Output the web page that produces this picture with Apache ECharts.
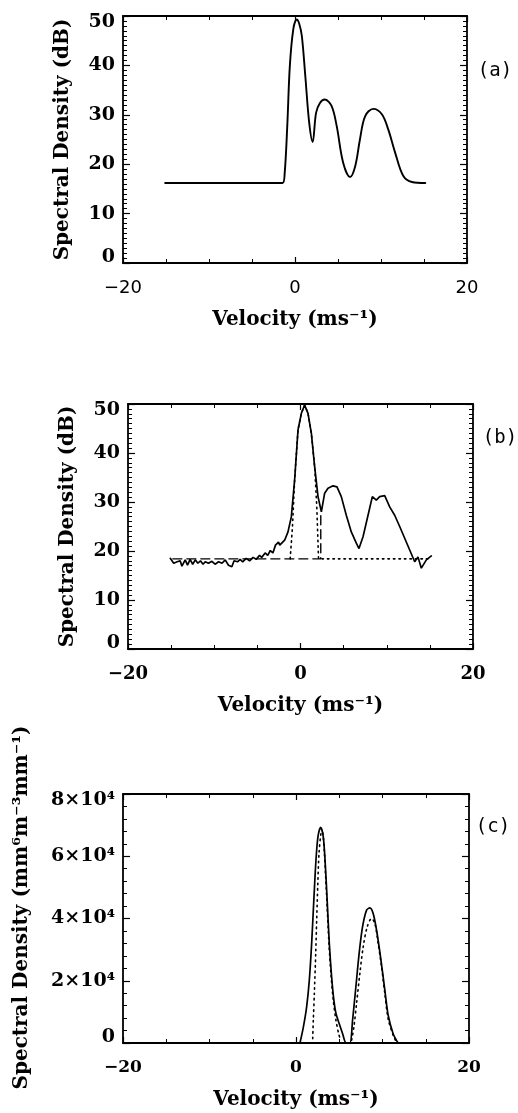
<!DOCTYPE html>
<html>
<head>
<meta charset="utf-8">
<script src="https://cdn.jsdelivr.net/npm/echarts@6/dist/echarts.min.js"></script>
<style>
  html, body { margin: 0; padding: 0; background: #ffffff; }
  #chart { width: 518px; height: 1113px; }
</style>
</head>
<body>
<div id="chart"></div>
<script>
// (a) model Doppler spectrum, dB
const velocityA = [-15.1, -8, -1.45, -1.2, -0.9, -0.6, -0.2, 0.2, 0.5, 0.8, 1.2, 1.65, 2.05, 2.45, 2.9, 3.45, 4.25, 4.85, 5.6, 6.4, 7.0, 7.55, 8.15, 9.1, 10.1, 10.85, 11.65, 12.6, 13.6, 15.15];
const densityA = [16.2, 16.2, 16.2, 18.2, 27.7, 39.9, 47.3, 49.3, 48.4, 45.9, 37.8, 28.4, 24.5, 30.4, 32.4, 33.1, 31.8, 27.7, 20.3, 17.4, 19.6, 25.0, 29.7, 31.2, 30.1, 27.0, 22.3, 17.6, 16.4, 16.2];

// (b) observed spectrum, dB
const velocityB = [-15.1, -14.7, -14.3, -13.95, -13.75, -13.37, -13.1, -12.8, -12.5, -12.2, -11.9, -11.6, -11.3, -11.05, -10.67, -10.28, -9.9, -9.5, -9.1, -8.73, -8.35, -7.96, -7.7, -7.3, -7.0, -6.7, -6.3, -5.9, -5.5, -5.14, -4.75, -4.5, -4.1, -3.8, -3.5, -3.2, -2.9, -2.55, -2.4, -1.84, -1.45, -1.06, -0.68, -0.29, 0.1, 0.48, 0.87, 1.26, 1.64, 2.03, 2.42, 2.8, 3.19, 3.77, 4.23, 4.73, 5.31, 5.89, 6.47, 6.78, 7.25, 7.83, 8.33, 8.79, 9.18, 9.76, 10.34, 10.92, 11.5, 12.08, 12.66, 13.24, 13.62, 14.01, 14.59, 15.17];
const densityB = [18.5, 17.5, 17.8, 18.0, 16.9, 18.2, 17.1, 18.3, 17.3, 18.2, 17.5, 18.0, 17.3, 17.8, 17.5, 17.9, 17.3, 17.8, 17.5, 18.2, 17.1, 16.8, 18.0, 17.8, 18.3, 17.8, 18.5, 18.0, 18.7, 18.3, 19.1, 18.7, 19.6, 19.1, 20.1, 19.6, 21.2, 21.8, 21.2, 22.2, 23.9, 27.0, 34.5, 44.7, 48.1, 49.8, 48.1, 44.0, 37.2, 31.1, 28.0, 31.8, 32.8, 33.3, 33.1, 31.1, 27.3, 23.9, 21.6, 20.5, 22.9, 27.3, 31.1, 30.4, 31.1, 31.3, 29.0, 27.3, 25.0, 22.6, 20.2, 17.8, 18.8, 16.5, 18.2, 19.0];

// (b) fitted clutter peak and noise floor (dotted)
const velocityBFit = [-1.2, -1.05, -0.93, -0.68, -0.29, 0.1, 0.48, 0.87, 1.26, 1.64, 1.89, 2.09, 2.45, 14.8];
const densityBFit = [18.4, 22.0, 25.0, 34.5, 44.7, 48.1, 49.8, 48.1, 44.0, 37.2, 29.0, 18.4, 18.4, 18.4];

// (b) noise floor and cut-off velocity (dashed)
const velocityBCut = [-14.8, 2.35, 2.35];
const densityBCut = [18.4, 18.4, 28.0];

// (c) drop size spectrum, mm^6 m^-3 mm^-1
const velocityC = [0.46, 0.85, 1.23, 1.54, 1.81, 2.08, 2.31, 2.54, 2.85, 3.15, 3.38, 3.62, 3.85, 4.12, 4.38, 4.62, 5.0, 5.39, 5.8, 6.23, 6.54, 6.92, 7.3, 7.69, 8.16, 8.54, 8.92, 9.31, 9.77, 10.27, 10.65, 11.23, 11.8];
const densityC = [0, 5100, 11600, 20200, 32000, 47000, 58800, 66300, 69300, 66300, 57700, 44900, 32000, 21200, 13700, 9500, 6200, 3000, 0, 0, 7300, 18000, 28800, 37300, 42700, 43400, 41600, 36300, 27700, 17000, 9000, 3000, 0];

// (c) fitted peaks (dotted)
const velocityCFit1 = [1.93, 2.0, 2.12, 2.28, 2.39, 2.51, 2.66, 2.89, 3.04, 3.24, 3.43, 3.62, 3.81, 4.04, 4.31, 4.62, 4.93, 5.16];
const densityCFit1 = [1400, 7300, 15900, 28800, 39500, 50200, 60900, 67400, 67900, 63100, 53400, 42700, 32000, 22300, 13700, 7300, 3000, 900];
const velocityCFit2 = [6.43, 6.69, 7.0, 7.38, 7.77, 8.23, 8.73, 9.12, 9.5, 9.89, 10.27, 10.65, 11.23, 11.6];
const densityCFit2 = [900, 5100, 12700, 22300, 30900, 37300, 40000, 38400, 32000, 24500, 15900, 7800, 2500, 300];

// tick labels
const velocityTicks = [-20, 0, 20];
const dbTicks = [0, 10, 20, 30, 40, 50];
const zTicks = [0, 20000, 40000, 60000, 80000];

const SERIF = 'DejaVu Serif';
const SANS = 'DejaVu Sans';
const MONO = 'DejaVu Sans Mono';
const INK = '#000000';

const zip = (xs, ys) => xs.map((x, i) => [x, ys[i]]);

const grids = [
  { left: 123, top: 16, width: 344, height: 247 },
  { left: 128, top: 404, width: 345, height: 245 },
  { left: 123, top: 794, width: 346, height: 249 }
];

function velocityAxes(g, labelFont, labelWeight, labelSize) {
  const common = {
    gridIndex: g, type: 'value',
    min: velocityTicks[0], max: velocityTicks[velocityTicks.length - 1],
    interval: velocityTicks[1] - velocityTicks[0],
    axisLine: { show: true, onZero: false, lineStyle: { color: INK, width: 1.8 } },
    axisTick: { show: true, inside: true, length: 6, lineStyle: { color: INK, width: 1.2 } },
    minorTick: { show: true, splitNumber: 4, length: 4, lineStyle: { color: INK, width: 1 } },
    splitLine: { show: false },
    minorSplitLine: { show: false }
  };
  return [
    Object.assign({}, common, {
      position: 'bottom',
      axisLabel: {
        show: true, margin: 16, color: INK, fontFamily: labelFont, fontWeight: labelWeight, fontSize: labelSize,
        formatter: v => String(v).replace('-', '\u2212')
      },
      name: 'Velocity (ms\u207B\u00B9)',
      nameLocation: 'middle',
      nameGap: 47,
      nameTextStyle: { color: INK, fontFamily: SERIF, fontWeight: 'bold', fontSize: 20 }
    }),
    Object.assign({}, common, { position: 'top', axisLabel: { show: false } })
  ];
}

function densityAxes(g, ticks, minorSplit, formatter, name, nameGap, namePadding) {
  const common = {
    gridIndex: g, type: 'value',
    min: ticks[0], max: ticks[ticks.length - 1], interval: ticks[1] - ticks[0],
    axisLine: { show: true, onZero: false, lineStyle: { color: INK, width: 1.8 } },
    axisTick: { show: true, inside: true, length: 7, lineStyle: { color: INK, width: 1.2 } },
    minorTick: { show: true, splitNumber: minorSplit, length: 4, lineStyle: { color: INK, width: 1 } },
    splitLine: { show: false },
    minorSplitLine: { show: false }
  };
  return [
    Object.assign({}, common, {
      position: 'left',
      axisLabel: {
        show: true, margin: 8, color: INK, fontFamily: SERIF, fontWeight: 'bold', fontSize: 19,
        lineHeight: 12,
        verticalAlignMinLabel: 'bottom',
        verticalAlignMaxLabel: 'top',
        formatter: formatter
      },
      name: name,
      nameLocation: 'middle',
      nameRotate: 90,
      nameGap: nameGap,
      nameTextStyle: { color: INK, fontFamily: SERIF, fontWeight: 'bold', fontSize: 20, padding: namePadding }
    }),
    Object.assign({}, common, { position: 'right', axisLabel: { show: false } })
  ];
}

const zFormatter = v => (v === 0 ? '0' : (v / 10000) + '\u00D710\u2074');

const xAxis = [].concat(
  velocityAxes(0, SANS, 'normal', 18),
  velocityAxes(1, SERIF, 'bold', 18),
  velocityAxes(2, SERIF, 'bold', 17)
);
const yAxis = [].concat(
  densityAxes(0, dbTicks, 10, v => String(v), 'Spectral Density (dB)', 50, 0),
  densityAxes(1, dbTicks, 10, v => String(v), 'Spectral Density (dB)', 50, 0),
  densityAxes(2, zTicks, 5, zFormatter, 'Spectral Density (mm\u2076m\u207B\u00B3mm\u207B\u00B9)', 91, [0, 0, 0, 22])
);

function line(panel, xs, ys, type, width, smooth) {
  return {
    type: 'line',
    xAxisIndex: panel * 2, yAxisIndex: panel * 2,
    data: zip(xs, ys),
    showSymbol: false, symbol: 'none',
    smooth: smooth || false,
    clip: true,
    lineStyle: { color: INK, width: width, type: type, cap: 'round' },
    z: 3
  };
}

const series = [
  line(0, velocityA, densityA, 'solid', 1.9, 0.35),
  line(1, velocityB, densityB, 'solid', 1.7, false),
  line(1, velocityBFit, densityBFit, [1.5, 4], 1.6, false),
  line(1, velocityBCut, densityBCut, [9, 5], 1.4, false),
  line(2, velocityC, densityC, 'solid', 1.7, 0.3),
  line(2, velocityCFit1, densityCFit1, [1.5, 4], 1.6, 0.3),
  line(2, velocityCFit2, densityCFit2, [1.5, 4], 1.6, 0.3)
];

const panelLabel = (text, x, y) => ({
  type: 'text', x: x, y: y,
  style: { text: text, fill: INK, fontFamily: MONO, fontSize: 19, align: 'center', verticalAlign: 'middle' }
});

const chart = echarts.init(document.getElementById('chart'), null, { renderer: 'canvas' });
chart.setOption({
  animation: false,
  backgroundColor: '#ffffff',
  grid: grids,
  xAxis: xAxis,
  yAxis: yAxis,
  series: series,
  graphic: [
    panelLabel('(a)', 495, 71),
    panelLabel('(b)', 500, 438),
    panelLabel('(c)', 493, 827)
  ]
});
</script>
</body>
</html>
